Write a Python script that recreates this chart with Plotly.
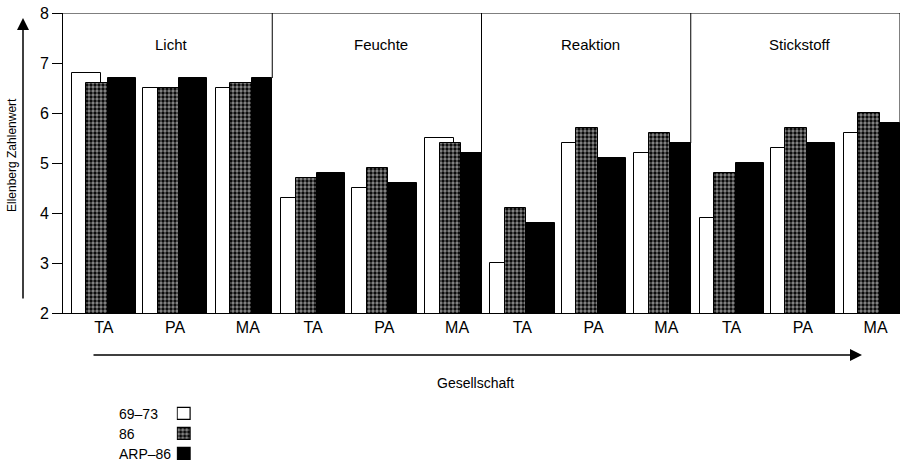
import plotly.graph_objects as go

panels = ["Licht", "Feuchte", "Reaktion", "Stickstoff"]
groups = ["TA", "PA", "MA"]
series_names = ["69–73", "86", "ARP–86"]

v6973 = [[6.8, 6.5, 6.5], [4.3, 4.5, 5.5], [3.0, 5.4, 5.2], [3.9, 5.3, 5.6]]
v86 = [[6.6, 6.5, 6.6], [4.7, 4.9, 5.4], [4.1, 5.7, 5.6], [4.8, 5.7, 6.0]]
varp = [[6.7, 6.7, 6.7], [4.8, 4.6, 5.2], [3.8, 5.1, 5.4], [5.0, 5.4, 5.8]]

y_ticks = [2, 3, 4, 5, 6, 7, 8]

# layout geometry (axis units, ~1 px each)
PANEL = 210
GSTART = [9, 80.5, 153.5]
FONT = "Liberation Sans"

PAT = dict(shape=".", fgcolor="white", bgcolor="black", size=4, solidity=0.55)


def positions(off, width_list):
    xs, ws = [], []
    for p in range(len(panels)):
        for g in range(len(groups)):
            w = width_list[g]
            xs.append(p * PANEL + GSTART[g] + off + w / 2)
            ws.append(w)
    return xs, ws


def flat(a):
    return [v for row in a for v in row]


fig = go.Figure()
xw, ww = positions(0, [29, 29, 29])
xp, wp = positions(14.5, [21.5, 21.5, 21.5])
xb, wb = positions(36, [28.5, 28.5, 20.5])

fig.add_trace(go.Bar(x=xw, y=flat(v6973), width=ww, name=series_names[0],
                     marker=dict(color="white", line=dict(color="black", width=1))))
fig.add_trace(go.Bar(x=xp, y=flat(v86), width=wp, name=series_names[1],
                     marker=dict(color="white", pattern=PAT, line=dict(color="black", width=1))))
fig.add_trace(go.Bar(x=xb, y=flat(varp), width=wb, name=series_names[2],
                     marker=dict(color="black", line=dict(color="black", width=1))))

# legend as a mini axis
for i, (nm, col, pat) in enumerate([(series_names[0], "white", None),
                                     (series_names[1], "white", PAT),
                                     (series_names[2], "black", None)]):
    mk = dict(color=col, line=dict(color="black", width=1.2))
    if pat:
        mk["pattern"] = pat
    fig.add_trace(go.Bar(x=[1], y=[2 - i], orientation="h", width=0.6,
                         marker=mk, xaxis="x2", yaxis="y2", showlegend=False))
    fig.add_annotation(x=(117 - 63) / 837, xref="paper", y=2 - i, yref="y2",
                       text=nm, showarrow=False, xanchor="left",
                       font=dict(family=FONT, size=14, color="black"))

tickvals = [p * PANEL + GSTART[g] + 32 for p in range(len(panels)) for g in range(len(groups))]
ticktext = [g for p in panels for g in groups]

# panel frame: top border and dividers down to last black bar
fig.add_shape(type="line", x0=0, x1=PANEL * len(panels), y0=8, y1=8,
              xref="x", yref="y", line=dict(color="black", width=1))
for p in range(len(panels)):
    fig.add_shape(type="line", x0=(p + 1) * PANEL, x1=(p + 1) * PANEL,
                  y0=varp[p][2], y1=8, xref="x", yref="y",
                  line=dict(color="black", width=1))
    fig.add_annotation(x=p * PANEL + PANEL / 2 + 4, y=7.38, text=panels[p],
                       showarrow=False, xref="x", yref="y",
                       font=dict(family=FONT, size=15, color="black"))

H = 453
# y title and arrow
fig.add_annotation(x=(12 - 63) / 837, y=(466 - 155) / H, xref="paper", yref="paper",
                   xanchor="center", yanchor="middle",
                   text="Ellenberg Zahlenwert", textangle=-90, showarrow=False,
                   font=dict(family=FONT, size=12, color="black"))
fig.add_annotation(x=(23 - 63) / 837, y=(466 - 18) / H, xref="paper", yref="paper",
                   ax=0, ay=282, axref="pixel", ayref="pixel", text="",
                   showarrow=True, arrowhead=2, arrowsize=1.6, arrowwidth=1.5,
                   arrowcolor="black")
# x arrow and title
fig.add_annotation(x=(862 - 63) / 837, y=(466 - 355) / H, xref="paper", yref="paper",
                   ax=-770, ay=0, axref="pixel", ayref="pixel", text="",
                   showarrow=True, arrowhead=2, arrowsize=1.6, arrowwidth=1.5,
                   arrowcolor="black")
fig.add_annotation(x=(475 - 63) / 837, y=(466 - 383) / H, xref="paper", yref="paper",
                   xanchor="center", yanchor="middle",
                   text="Gesellschaft", showarrow=False,
                   font=dict(family=FONT, size=14, color="black"))

fig.update_layout(
    width=905, height=466,
    margin=dict(l=63, r=5, t=13, b=0, autoexpand=False),
    paper_bgcolor="white", plot_bgcolor="white",
    barmode="overlay", bargap=0, showlegend=False,
    font=dict(family=FONT, color="black"),
    xaxis=dict(range=[0, PANEL * len(panels)], tickvals=tickvals, ticktext=ticktext,
               showgrid=False, zeroline=False, showline=True, linecolor="black",
               linewidth=1, ticks="", tickfont=dict(size=16, family=FONT),
               domain=[0, 1], automargin=False),
    yaxis=dict(range=[2, 8], tickvals=y_ticks, showgrid=False, zeroline=False,
               showline=True, linecolor="black", linewidth=1, ticks="outside",
               ticklen=10, tickcolor="black", tickfont=dict(size=16, family=FONT),
               domain=[(466 - 313) / H, 1], automargin=False),
    xaxis2=dict(domain=[(176.7 - 63) / 837, (192.3 - 63) / 837], range=[-0.1, 1.1],
                visible=False, anchor="y2"),
    yaxis2=dict(domain=[(466 - 464) / H, (466 - 404) / H], range=[-0.5, 2.5],
                visible=False, anchor="x2"),
)

fig.write_html("out.html", config={"displayModeBar": False},
               post_script="document.body.style.margin='0';document.body.style.overflow='hidden';")
